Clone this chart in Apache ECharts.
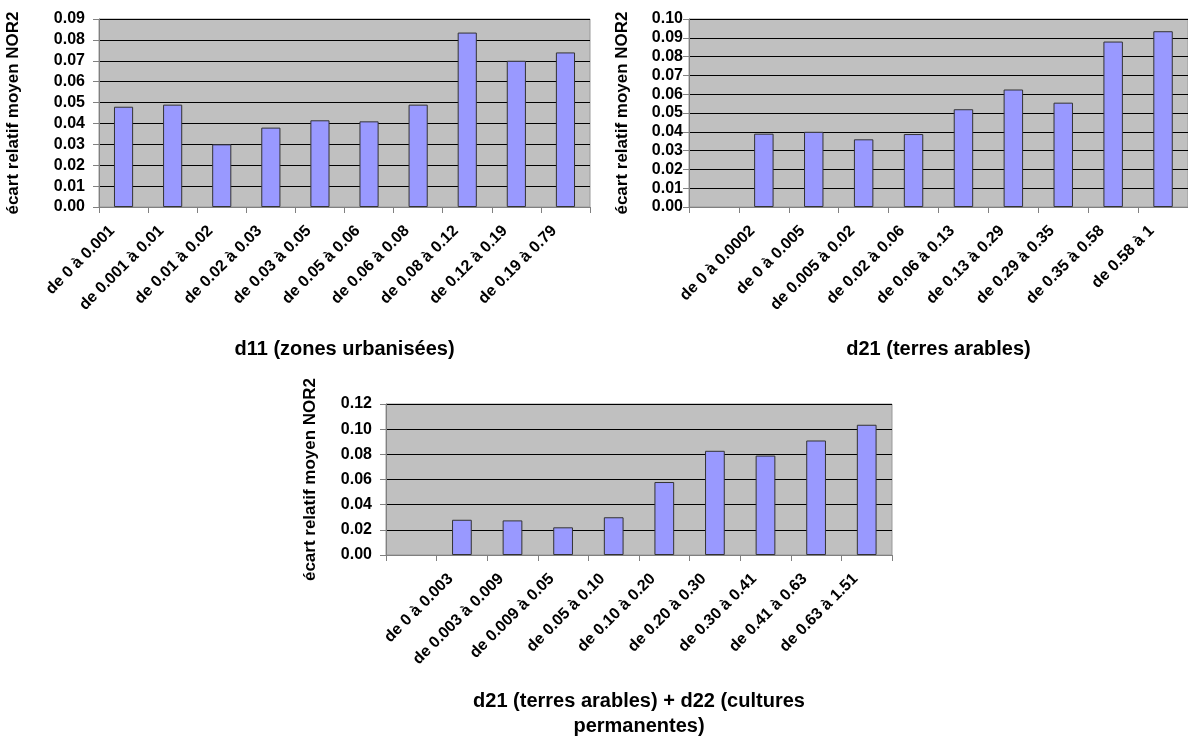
<!DOCTYPE html>
<html>
<head>
<meta charset="utf-8">
<script src="https://cdn.jsdelivr.net/npm/echarts@6/dist/echarts.min.js"></script>
<style>
html,body{margin:0;padding:0;background:#fff;}
#c{width:1188px;height:740px;}
</style>
</head>
<body>
<div id="c"></div>
<script>
// Chart 1: d11 (zones urbanisées)
const cats1 = ['de 0 à 0.001','de 0.001 à 0.01','de 0.01 à 0.02','de 0.02 à 0.03','de 0.03 à 0.05','de 0.05 à 0.06','de 0.06 à 0.08','de 0.08 à 0.12','de 0.12 à 0.19','de 0.19 à 0.79'];
const vals1 = [0.048, 0.049, 0.030, 0.038, 0.0415, 0.041, 0.049, 0.0835, 0.070, 0.074];
// Chart 2: d21 (terres arables) — first category has no label and no value
const cats2 = ['', 'de 0 à 0.0002','de 0 à 0.005','de 0.005 à 0.02','de 0.02 à 0.06','de 0.06 à 0.13','de 0.13 à 0.29','de 0.29 à 0.35','de 0.35 à 0.58','de 0.58 à 1'];
const vals2 = [null, 0.039, 0.040, 0.036, 0.0388, 0.052, 0.0625, 0.0555, 0.088, 0.0935];
// Chart 3: d21 + d22 — first category has no label and no value
const cats3 = ['', 'de 0 à 0.003','de 0.003 à 0.009','de 0.009 à 0.05','de 0.05 à 0.10','de 0.10 à 0.20','de 0.20 à 0.30','de 0.30 à 0.41','de 0.41 à 0.63','de 0.63 à 1.51'];
const vals3 = [null, 0.028, 0.0275, 0.022, 0.030, 0.058, 0.0828, 0.079, 0.091, 0.1035];

const yTitle = 'écart relatif moyen NOR2';
const xTitle1 = 'd11 (zones urbanisées)';
const xTitle2 = 'd21 (terres arables)';
const xTitle3 = 'd21 (terres arables) + d22 (cultures\npermanentes)';

const FONT = '"Liberation Sans", Arial, sans-serif';

function xAxisDef(idx, cats, name, gap) {
  return {
    type: 'category', gridIndex: idx, data: cats,
    name: name, nameLocation: 'middle', nameGap: gap,
    nameTextStyle: {fontFamily: FONT, fontSize: 20, fontWeight: 'bold', color: '#000', lineHeight: 25, verticalAlign: 'top'},
    axisLine: {show: true, lineStyle: {color: '#808080', width: 1}},
    axisTick: {show: true, length: 6, lineStyle: {color: '#808080'}},
    axisLabel: {interval: 0, rotate: 45, margin: 10, padding: [0, 16, 0, 0],
      fontFamily: FONT, fontSize: 16, fontWeight: 'bold', color: '#000'},
    splitLine: {show: false}
  };
}
function yAxisDef(idx, max, interval, gap, margin) {
  return {
    type: 'value', gridIndex: idx, min: 0, max: max, interval: interval,
    name: yTitle, nameLocation: 'middle', nameGap: gap, nameRotate: 90,
    nameTextStyle: {fontFamily: FONT, fontSize: 17, fontWeight: 'bold', color: '#000'},
    axisLine: {show: true, lineStyle: {color: '#808080', width: 1}},
    axisTick: {show: true, length: 6, lineStyle: {color: '#808080'}},
    axisLabel: {margin: margin, fontFamily: FONT, fontSize: 16, fontWeight: 'bold', color: '#000',
      formatter: v => v.toFixed(2)},
    splitLine: {show: true, lineStyle: {color: '#000', width: 1}}
  };
}
function barSeries(idx, vals) {
  return {
    type: 'bar', xAxisIndex: idx, yAxisIndex: idx, data: vals, barWidth: '39%',
    itemStyle: {color: '#9999FF', borderColor: '#333333', borderWidth: 1},
    silent: true, animation: false
  };
}

const chart = echarts.init(document.getElementById('c'), null, {renderer: 'canvas'});
chart.setOption({
  animation: false,
  backgroundColor: '#ffffff',
  grid: [
    {left: 99, top: 19, width: 491, height: 188, show: true, backgroundColor: '#C0C0C0', borderColor: '#999999', borderWidth: 1},
    {left: 689, top: 19, width: 507, height: 188, show: true, backgroundColor: '#C0C0C0', borderColor: '#999999', borderWidth: 1},
    {left: 386, top: 404, width: 506, height: 156, show: true, backgroundColor: '#C0C0C0', borderColor: '#999999', borderWidth: 1}
  ],
  xAxis: [
    xAxisDef(0, cats1, xTitle1, 130),
    xAxisDef(1, cats2, xTitle2, 130),
    xAxisDef(2, cats3, xTitle3, 134)
  ],
  yAxis: [
    yAxisDef(0, 0.09, 0.01, 77, 14),
    yAxisDef(1, 0.10, 0.01, 58, 6),
    yAxisDef(2, 0.12, 0.02, 67, 14)
  ],
  series: [barSeries(0, vals1), barSeries(1, vals2), barSeries(2, vals3)]
});
</script>
</body>
</html>
